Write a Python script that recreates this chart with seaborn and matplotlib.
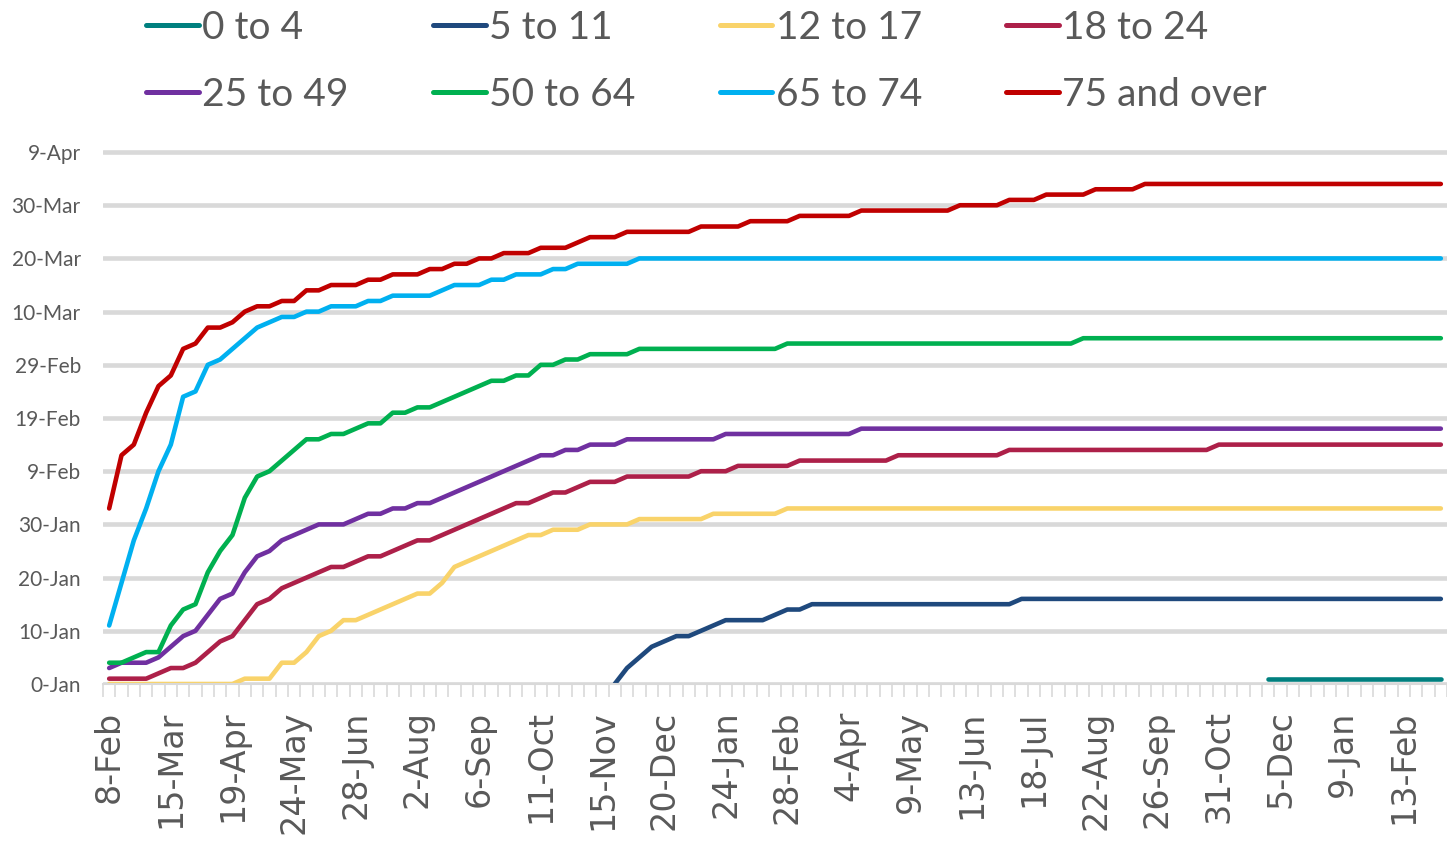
import numpy as np
import pandas as pd
import matplotlib
matplotlib.use("Agg")
import matplotlib.pyplot as plt
from matplotlib.lines import Line2D
import seaborn as sns

nan = np.nan

groups = ["0 to 4", "5 to 11", "12 to 17", "18 to 24",
          "25 to 49", "50 to 64", "65 to 74", "75 and over"]
colors = ["#00807F", "#1F497D", "#F9D36A", "#AD2049",
          "#7030A0", "#00B050", "#00B0F0", "#C00000"]

# weekly values, one per week from 8-Feb
age_0_4 = [nan] * 94 + [1] * 15

age_5_11 = [nan] * 41 + [0, 3, 5, 7, 8, 9, 9, 10, 11,
                         12, 12, 12, 12, 13, 14, 14, 15, 15, 15,
                         15, 15, 15, 15, 15, 15, 15, 15, 15, 15,
                         15, 15, 15, 15] + [16] * 35

age_12_17 = [0, 0, 0, 0, 0, 0, 0, 0, 0, 0,
             0, 1, 1, 1, 4, 4, 6, 9, 10, 12,
             12, 13, 14, 15, 16, 17, 17, 19, 22, 23,
             24, 25, 26, 27, 28, 28, 29, 29, 29, 30,
             30, 30, 30, 31, 31, 31, 31, 31, 31, 32,
             32, 32, 32, 32, 32] + [33] * 54

age_18_24 = [1, 1, 1, 1, 2, 3, 3, 4, 6, 8,
             9, 12, 15, 16, 18, 19, 20, 21, 22, 22,
             23, 24, 24, 25, 26, 27, 27, 28, 29, 30,
             31, 32, 33, 34, 34, 35, 36, 36, 37, 38,
             38, 38, 39, 39, 39, 39, 39, 39, 40, 40,
             40, 41, 41, 41, 41, 41, 42, 42, 42, 42,
             42, 42, 42, 42, 43, 43, 43, 43, 43, 43,
             43, 43, 43] + [44] * 17 + [45] * 19

age_25_49 = [3, 4, 4, 4, 5, 7, 9, 10, 13, 16,
             17, 21, 24, 25, 27, 28, 29, 30, 30, 30,
             31, 32, 32, 33, 33, 34, 34, 35, 36, 37,
             38, 39, 40, 41, 42, 43, 43, 44, 44, 45,
             45, 45, 46, 46, 46, 46, 46, 46, 46, 46] + [47] * 11 + [48] * 48

age_50_64 = [4, 4, 5, 6, 6, 11, 14, 15, 21, 25,
             28, 35, 39, 40, 42, 44, 46, 46, 47, 47,
             48, 49, 49, 51, 51, 52, 52, 53, 54, 55,
             56, 57, 57, 58, 58, 60, 60, 61, 61, 62,
             62, 62, 62] + [63] * 12 + [64] * 24 + [65] * 30

age_65_74 = [11, 19, 27, 33, 40, 45, 54, 55, 60, 61,
             63, 65, 67, 68, 69, 69, 70, 70, 71, 71,
             71, 72, 72, 73, 73, 73, 73, 74, 75, 75,
             75, 76, 76, 77, 77, 77, 78, 78, 79, 79,
             79, 79, 79] + [80] * 66

age_75_plus = [33, 43, 45, 51, 56, 58, 63, 64, 67, 67,
               68, 70, 71, 71, 72, 72, 74, 74, 75, 75,
               75, 76, 76, 77, 77, 77, 78, 78, 79, 79,
               80, 80, 81, 81, 81, 82, 82, 82, 83, 84,
               84, 84, 85, 85, 85, 85, 85, 85, 86, 86,
               86, 86, 87, 87, 87, 87, 88, 88, 88, 88,
               88, 89, 89, 89, 89, 89, 89, 89, 89, 90,
               90, 90, 90, 91, 91, 91, 92, 92, 92, 92,
               93, 93, 93, 93] + [94] * 25

x_labels = ["8-Feb", "15-Mar", "19-Apr", "24-May", "28-Jun", "2-Aug", "6-Sep",
            "11-Oct", "15-Nov", "20-Dec", "24-Jan", "28-Feb", "4-Apr", "9-May",
            "13-Jun", "18-Jul", "22-Aug", "26-Sep", "31-Oct", "5-Dec", "9-Jan",
            "13-Feb"]
y_labels = ["0-Jan", "10-Jan", "20-Jan", "30-Jan", "9-Feb", "19-Feb",
            "29-Feb", "10-Mar", "20-Mar", "30-Mar", "9-Apr"]

series = [age_0_4, age_5_11, age_12_17, age_18_24,
          age_25_49, age_50_64, age_65_74, age_75_plus]
n = len(age_75_plus)

wide = pd.DataFrame({g: s for g, s in zip(groups, series)})
wide["week"] = np.arange(n)
df = wide.melt(id_vars="week", var_name="group", value_name="pct").dropna()

sns.set_theme(style="white")
plt.rcParams["lines.solid_capstyle"] = "round"
plt.rcParams["lines.solid_joinstyle"] = "round"

fig = plt.figure(figsize=(14.47, 8.43), dpi=100)
ax = fig.add_axes([103 / 1447, 159 / 843, 1 - 103 / 1447, (684 - 141.4) / 843])

sns.lineplot(data=df, x="week", y="pct", hue="group", hue_order=groups,
             palette=colors, linewidth=3.3, legend=False, ax=ax)

ax.set_xlim(-0.5, n - 0.5)
ax.set_ylim(0, 102)
ax.set_xlabel("")
ax.set_ylabel("")

ax.set_yticks(range(0, 101, 10))
ax.set_yticklabels(y_labels, fontsize=15, color="#595959", family="Lato")
ax.yaxis.grid(True, color="#D9D9D9", linewidth=3.3)
ax.set_axisbelow(True)

ax.set_xticks(range(0, n, 5))
ax.set_xticklabels(x_labels, rotation=90, fontsize=24, color="#595959",
                   family="DejaVu Sans")
ax.set_xticks(np.arange(-0.5, n, 1), minor=True)
ax.tick_params(axis="x", which="major", length=0, pad=19)
ax.tick_params(axis="x", which="minor", length=9, width=1.2, color="#D9D9D9",
               direction="out", bottom=True)
ax.tick_params(axis="y", length=0, pad=16)

for side in ["top", "right", "left"]:
    ax.spines[side].set_visible(False)
ax.spines["bottom"].set_color("#D9D9D9")
ax.spines["bottom"].set_linewidth(1.5)

handles = [Line2D([], [], color=c, lw=3.6) for c in colors]
order = [0, 4, 1, 5, 2, 6, 3, 7]
fig.legend([handles[i] for i in order], [groups[i] for i in order],
           loc="upper left", bbox_to_anchor=(146 / 1447, 1 - 10 / 843),
           ncol=4, frameon=False, borderpad=0, borderaxespad=0,
           handlelength=1.36, handletextpad=0.08, columnspacing=2.17,
           labelspacing=0.8, labelcolor="#595959",
           prop={"family": "Lato", "size": 28})

fig.savefig("out.png", dpi=100)
